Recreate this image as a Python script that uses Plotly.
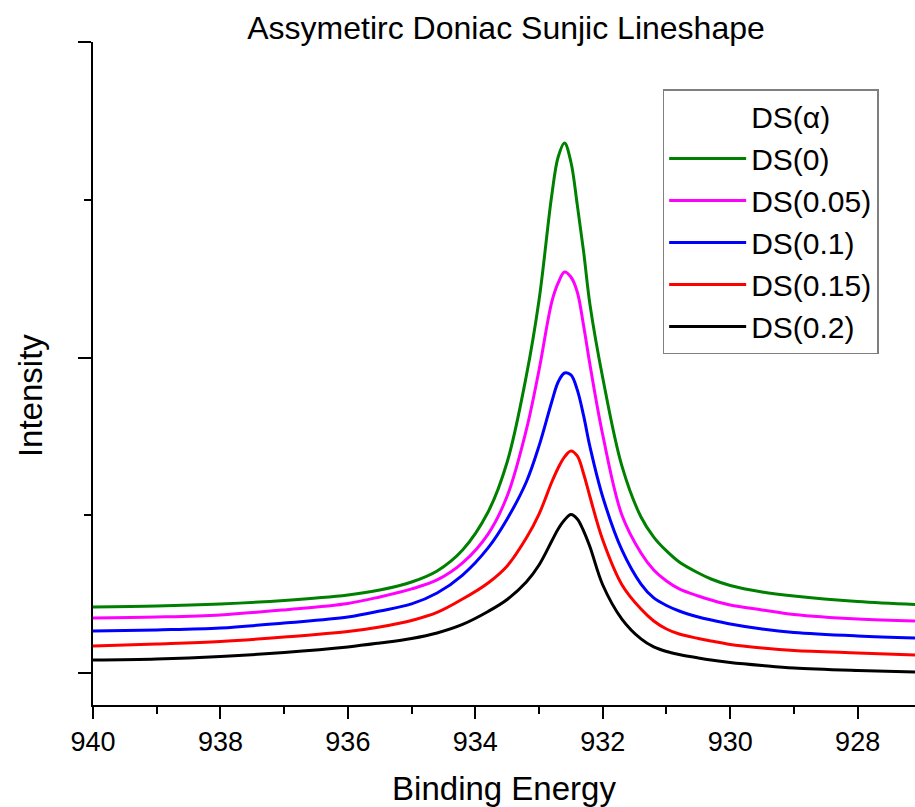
import plotly.graph_objects as go

# Binding energy grid (eV)
binding_energy = [940, 939, 938, 937, 936, 935.5, 935, 934.6, 934.2, 933.8, 933.5, 933.2,
                  933.0, 932.8, 932.7, 932.6, 932.5, 932.4, 932.3, 932.2, 932.0, 931.7,
                  931.4, 931.2, 931.0, 930.8, 930.5, 930.3, 930.0, 929.5, 929, 928, 927.1]

# Intensity values (arbitrary units)
ds_0 = [419, 425, 438, 460, 495, 526, 577, 647, 780, 1021, 1338, 1883,
        2365, 3031, 3272, 3361, 3240, 2968, 2670, 2334, 1871, 1313,
        989, 862, 774, 704, 634, 596, 555, 514, 488, 453, 434]
ds_005 = [349, 355, 368, 400, 441, 482, 533, 590, 698, 881, 1122, 1541,
          1921, 2353, 2473, 2543, 2511, 2416, 2200, 1953, 1509, 1002,
          761, 653, 583, 533, 488, 463, 431, 400, 371, 342, 330]
ds_01 = [266, 273, 285, 317, 355, 393, 438, 507, 621, 793, 977, 1211,
         1440, 1720, 1845, 1902, 1890, 1795, 1630, 1433, 1116, 780,
         564, 476, 428, 393, 355, 336, 311, 279, 257, 235, 222]
ds_015 = [171, 184, 200, 228, 263, 292, 333, 384, 469, 571, 679, 856,
          1008, 1211, 1300, 1370, 1408, 1376, 1262, 1116, 843, 560,
          405, 330, 279, 247, 219, 203, 181, 159, 143, 127, 114]
ds_02 = [82, 89, 105, 130, 165, 190, 219, 254, 308, 390, 466, 577,
         685, 837, 913, 970, 1005, 977, 900, 799, 558, 342,
         216, 165, 136, 117, 95, 82, 67, 48, 32, 16, 6]

series_names = ["DS(0)", "DS(0.05)", "DS(0.1)", "DS(0.15)", "DS(0.2)"]
series_values = [ds_0, ds_005, ds_01, ds_015, ds_02]
series_colors = ["#008000", "#FF00FF", "#0000FF", "#FF0000", "#000000"]

x_ticks = [940, 938, 936, 934, 932, 930, 928]

FONT = "Liberation Sans, Arial, sans-serif"

fig = go.Figure()

# legend header entry (no line)
fig.add_trace(go.Scatter(x=[None], y=[None], mode="lines", name="DS(\u03b1)",
                         line=dict(color="rgba(0,0,0,0)", width=3),
                         hoverinfo="skip"))

for name, vals, col in zip(series_names, series_values, series_colors):
    fig.add_trace(go.Scatter(x=binding_energy, y=vals, mode="lines", name=name,
                             line=dict(color=col, width=3, shape="spline", smoothing=1.0)))

fig.update_layout(
    width=915, height=807,
    paper_bgcolor="white", plot_bgcolor="white",
    margin=dict(l=93, r=0, t=42, b=102),
    font=dict(family=FONT, color="black", size=27),
    title=dict(text="Assymetirc Doniac Sunjic Lineshape", x=0.553, xanchor="center",
               y=0.965, yanchor="middle", font=dict(size=32, family=FONT)),
    showlegend=True,
    legend=dict(x=0.693, y=0.929, xanchor="left", yanchor="top",
                bordercolor="#7f7f7f", borderwidth=1.5, bgcolor="white",
                font=dict(size=30, family=FONT), itemwidth=77,
                tracegroupgap=0, traceorder="normal"),
    annotations=[dict(text="Intensity", xref="paper", yref="paper",
                      x=-0.0766, y=0.466, xanchor="center", yanchor="middle",
                      textangle=-90, showarrow=False,
                      font=dict(size=33, family=FONT, color="black"))],
)

fig.update_xaxes(
    range=[940, 927.1], autorange=False,
    tickvals=x_ticks, ticktext=[str(t) for t in x_ticks],
    ticks="outside", ticklen=12, tickwidth=2, tickcolor="black",
    minor=dict(dtick=1, tick0=0, ticks="outside", ticklen=7, tickwidth=2, tickcolor="black"),
    showline=True, linecolor="black", linewidth=2, mirror=False,
    showgrid=False, zeroline=False,
    tickfont=dict(size=27, family=FONT),
    title=dict(text="Binding Energy", font=dict(size=33, family=FONT), standoff=24),
)

fig.update_yaxes(
    range=[-203, 4001], autorange=False,
    tickvals=[0, 2000, 4000], showticklabels=False,
    ticks="outside", ticklen=13, tickwidth=2, tickcolor="black",
    minor=dict(tickvals=[1000, 3000], ticks="outside", ticklen=7, tickwidth=2, tickcolor="black"),
    showline=True, linecolor="black", linewidth=2, mirror=False,
    showgrid=False, zeroline=False,
)

fig.write_html("out.html", config={"displayModeBar": False},
               post_script="document.body.style.margin='0';")
